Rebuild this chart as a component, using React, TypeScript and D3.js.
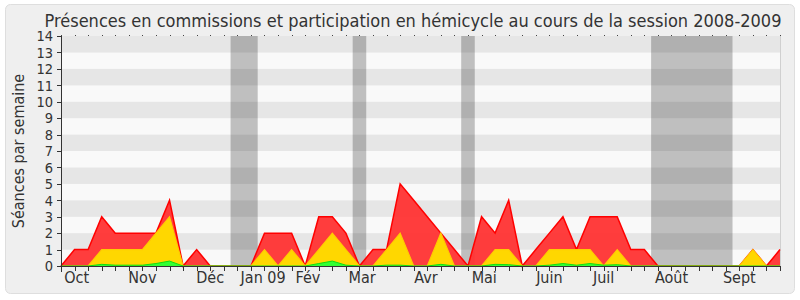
import React from "react";
import * as d3 from "d3";

const TITLE = "Présences en commissions et participation en hémicycle au cours de la session 2008-2009";
const Y_LABEL = "Séances par semaine";

// weekly values (week index 0..53)
const totalSeances = [0,1,1,3,2,2,2,2,4,0,1,0,0,0,0,2,2,2,0,3,3,2,0,1,1,5,4,3,2,1,0,3,2,4,0,1,2,3,1,3,3,3,1,1,0,0,0,0,0,0,0,1,0,1];
const commissions = [0,0,0,1,1,1,1,2,3,0,0,0,0,0,0,1,0,1,0,1,2,1,0,0,1,2,0,0,2,0,0,0,1,1,0,0,1,1,1,1,0,1,0,0,0,0,0,0,0,0,0,1,0,0];
const hemicycle = [0,0,0,0.1,0.05,0.05,0.05,0.15,0.3,0,0,0,0,0,0,0,0,0,0,0.15,0.3,0.05,0,0,0.05,0.05,0,0,0.1,0,0,0,0.1,0.08,0,0,0.05,0.15,0.05,0.15,0.05,0.08,0,0,0,0,0,0,0,0,0,0,0,0];

// vacation periods (week index start, end)
const vacStart = [12.5, 21.5, 29.5, 43.5];
const vacEnd = [14.5, 22.5, 30.5, 49.5];

const monthLabels = ["Oct","Nov","Déc","Jan 09","Fév","Mar","Avr","Mai","Juin","Juil","Août","Sept"];
const monthPos = [1.15, 6.0, 11.0, 14.9, 18.2, 22.2, 26.9, 31.2, 36.0, 40.0, 45.0, 50.0];

const yTicks = d3.range(0, 15);

const FONT = "'DejaVu Sans Condensed', 'DejaVu Sans', sans-serif";

export default function App() {
  const W = 800, H = 300;
  const x = d3.scaleLinear().domain([0, 53]).range([61, 780]);
  const y = d3.scaleLinear().domain([0, 14]).range([266, 36]);
  const weeks = d3.range(0, 54);

  const area = (vals: number[]) =>
    d3.area<number>().x((_, i) => x(i)).y0(y(0)).y1((d) => y(d))(vals) || "";
  const line = (vals: number[]) =>
    d3.line<number>().x((_, i) => x(i)).y((d) => y(d))(vals) || "";

  return (
    <svg width={W} height={H} style={{ position: "absolute", left: 0, top: 0, background: "#fff" }} fontFamily={FONT}>
      <rect x={5.5} y={4.5} width={789} height={289} rx={5} fill="#efefef" stroke="#dedede" />
      {/* stripes */}
      {d3.range(0, 14).map((v) => (
        <rect key={"s" + v} x={x(0)} width={x(53) - x(0)} y={y(v + 1)} height={y(v) - y(v + 1)}
          fill={v % 2 === 1 ? "#e6e6e6" : "#f9f9f9"} />
      ))}
      {/* vacations */}
      {vacStart.map((s, k) => (
        <rect key={"v" + k} x={x(s)} width={x(vacEnd[k]) - x(s)} y={y(14)} height={y(0) - y(14)} fill="#000" fillOpacity={0.23} />
      ))}
      <line x1={x(53) + 0.5} x2={x(53) + 0.5} y1={y(14)} y2={y(0)} stroke="#d0d0d0" />
      {/* top dots */}
      {weeks.map((i) => (
        <rect key={"d" + i} x={Math.round(x(i))} y={y(14) - 1} width={1} height={1} fill="#444" />
      ))}
      {/* areas */}
      <path d={area(totalSeances)} fill="#ff3333" fillOpacity={0.95} />
      <path d={line(totalSeances)} fill="none" stroke="#ff0000" strokeWidth={1.5} />
      <path d={area(commissions)} fill="#ffd700" />
      <path d={line(commissions)} fill="none" stroke="#ffcc00" strokeWidth={1.2} />
      <path d={area(hemicycle)} fill="#33ff33" />
      <path d={line(hemicycle)} fill="none" stroke="#11dd11" strokeWidth={1} />
      {/* y axis */}
      <line x1={x(0) + 0.5} x2={x(0) + 0.5} y1={y(14)} y2={y(0) + 6} stroke="#333" />
      {yTicks.map((v) => (
        <g key={"y" + v}>
          <line x1={x(0) - 4} x2={x(0)} y1={Math.round(y(v)) + 0.5} y2={Math.round(y(v)) + 0.5} stroke="#333" />
          <text x={53} y={y(v)} dy="0.36em" textAnchor="end" fontSize={14.5} fill="#333">{v}</text>
        </g>
      ))}
      {/* x axis */}
      <line x1={x(0)} x2={x(53) + 1} y1={y(0) + 0.5} y2={y(0) + 0.5} stroke="#333" />
      {weeks.map((i) => (
        <line key={"xt" + i} x1={Math.round(x(i)) + 0.5} x2={Math.round(x(i)) + 0.5} y1={y(0)} y2={y(0) + 5} stroke="#333" />
      ))}
      {monthLabels.map((m, k) => (
        <text key={"m" + k} x={x(monthPos[k])} y={283} textAnchor="middle" fontSize={16} fill="#333">{m}</text>
      ))}
      <text transform={`translate(24,${(y(0) + y(14)) / 2}) rotate(-90)`} textAnchor="middle" fontSize={16} fill="#333">{Y_LABEL}</text>
      <text x={413} y={27} textAnchor="middle" fontSize={18} fill="#333">{TITLE}</text>
    </svg>
  );
}
